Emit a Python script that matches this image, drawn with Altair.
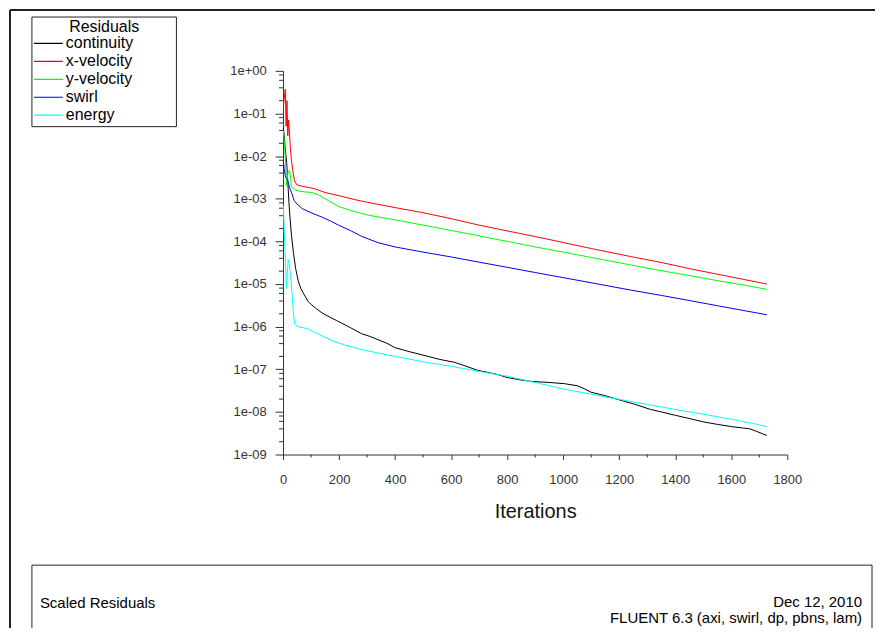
import json
import altair as alt
import pandas as pd

# ---------------- data ----------------
series_names = ["continuity", "x-velocity", "y-velocity", "swirl", "energy"]
series_colors = ["#000000", "#ff0000", "#00ff00", "#0000ff", "#00ffff"]

continuity_iter = [1, 4, 7, 10, 13, 17, 21, 25, 30, 37, 45, 54, 63, 72, 80, 89, 103, 120, 139, 165,
                   190, 210, 240, 281, 310, 340, 370, 400, 450, 518, 560, 613, 650, 696, 740, 767, 800,
                   850, 886, 950, 1004, 1051, 1075, 1099, 1150, 1202, 1250, 1312, 1350, 1401, 1450,
                   1502, 1550, 1602, 1640, 1667, 1690, 1710, 1727]
continuity_val = [4.7e-2, 3.0e-2, 1.7e-2, 1.1e-2, 7.0e-3, 2.5e-3, 8.3e-4, 3.5e-4, 1.4e-4, 5.5e-5,
                  2.3e-5, 1.2e-5, 8.0e-6, 6.2e-6, 5.0e-6, 3.9e-6, 3.2e-6, 2.6e-6, 2.1e-6, 1.7e-6,
                  1.4e-6, 1.2e-6, 9.5e-7, 6.8e-7, 5.9e-7, 4.9e-7, 4.1e-7, 3.2e-7, 2.6e-7, 2.0e-7,
                  1.7e-7, 1.45e-7, 1.2e-7, 9.4e-8, 8.2e-8, 7.5e-8, 6.4e-8, 5.6e-8, 5.2e-8, 4.9e-8,
                  4.6e-8, 4.1e-8, 3.5e-8, 2.9e-8, 2.4e-8, 1.9e-8, 1.55e-8, 1.14e-8, 1.0e-8, 8.3e-9,
                  7.0e-9, 5.8e-9, 5.1e-9, 4.5e-9, 4.2e-9, 4.0e-9, 3.5e-9, 3.1e-9, 2.8e-9]

x_velocity_iter = [1, 4, 8, 11, 14, 17, 20, 23, 26, 30, 35, 41, 50, 70, 100, 115, 150, 200, 257, 320,
                   400, 500, 601, 700, 767, 802, 900, 1000, 1100, 1241, 1350, 1450, 1550, 1650, 1727]
x_velocity_val = [0.15, 0.22, 0.37, 0.05, 0.2, 0.03, 0.07, 0.035, 0.016, 0.008,
                  0.0045, 0.0026, 0.0021, 0.00195, 0.0018, 0.0017, 0.0014, 0.00118, 9.5e-4, 7.8e-4,
                  6.2e-4, 4.7e-4, 3.4e-4, 2.4e-4, 1.95e-4, 1.75e-4, 1.3e-4, 9.4e-5, 6.8e-5, 4.4e-5,
                  3.2e-5, 2.3e-5, 1.7e-5, 1.26e-5, 1.0e-5]

y_velocity_iter = [1, 5, 9, 13, 16, 19, 24, 27, 30, 39, 50, 75, 103, 130, 150, 175, 200, 250, 305, 400,
                   500, 601, 700, 767, 900, 1000, 1100, 1241, 1350, 1450, 1550, 1650, 1727]
y_velocity_val = [0.04, 0.02, 0.007, 0.002, 0.0035, 0.0045, 0.0045, 0.003, 0.002, 0.0017,
                  0.00155, 0.00145, 0.0014, 0.0012, 0.001, 8.0e-4, 6.5e-4, 5.1e-4, 4.1e-4, 3.2e-4,
                  2.4e-4, 1.8e-4, 1.35e-4, 1.1e-4, 7.4e-5, 5.6e-5, 4.2e-5, 2.8e-5, 2.05e-5, 1.58e-5,
                  1.2e-5, 9.3e-6, 7.5e-6]

swirl_iter = [1, 4, 8, 12, 16, 20, 25, 32, 40, 50, 68, 100, 139, 170, 198, 240, 282, 340, 400, 500,
              601, 700, 767, 802, 900, 1000, 1100, 1241, 1350, 1450, 1550, 1650, 1727]
swirl_val = [0.008, 0.005, 0.0035, 0.003, 0.0028, 0.0022, 0.0017, 0.0013, 9.0e-4, 7.5e-4,
             5.9e-4, 4.7e-4, 3.7e-4, 3.0e-4, 2.4e-4, 1.8e-4, 1.3e-4, 9.3e-5, 7.4e-5, 5.6e-5,
             4.3e-5, 3.25e-5, 2.7e-5, 2.45e-5, 1.86e-5, 1.41e-5, 1.07e-5, 7.2e-6, 5.4e-6, 4.1e-6,
             3.1e-6, 2.35e-6, 1.9e-6]

energy_iter = [1, 4, 7, 10, 12, 15, 18, 20, 22, 27, 32, 37, 41, 51, 70, 86, 110, 146, 174, 220,
               281, 340, 400, 500, 601, 700, 767, 802, 900, 1004, 1100, 1202, 1300, 1401, 1500,
               1602, 1680, 1727]
energy_val = [6.9e-4, 2.0e-4, 6.6e-5, 1.8e-5, 7.8e-6, 1.5e-5, 3.8e-5, 3.5e-5, 2.7e-5, 1.6e-5,
              6.0e-6, 2.2e-6, 1.2e-6, 1.0e-6, 9.5e-7, 9.0e-7, 7.5e-7, 5.8e-7, 4.7e-7, 3.7e-7,
              2.9e-7, 2.4e-7, 2.0e-7, 1.5e-7, 1.17e-7, 8.9e-8, 7.5e-8, 6.8e-8, 4.9e-8, 3.4e-8,
              2.6e-8, 1.95e-8, 1.5e-8, 1.14e-8, 8.8e-9, 6.7e-9, 5.3e-9, 4.5e-9]

x_tick_values = [0, 200, 400, 600, 800, 1000, 1200, 1400, 1600, 1800]
x_minor_values = [100, 300, 500, 700, 900, 1100, 1300, 1500, 1700]
y_tick_values = [1e-9, 1e-8, 1e-7, 1e-6, 1e-5, 1e-4, 1e-3, 1e-2, 1e-1, 1e0]
y_tick_labels = ["1e-09", "1e-08", "1e-07", "1e-06", "1e-05", "1e-04", "1e-03", "1e-02", "1e-01", "1e+00"]
y_minor_values = [m * 10.0 ** e for e in range(-9, 0) for m in (2, 4, 6, 8)]

footer_left = ["Scaled Residuals"]
footer_date = ["Dec 12, 2010"]
footer_solver = ["FLUENT 6.3 (axi, swirl, dp, pbns, lam)"]
legend_title = ["Residuals"]

# ---------------- tables ----------------
frames = []
for name, its, vals in [
    ("continuity", continuity_iter, continuity_val),
    ("x-velocity", x_velocity_iter, x_velocity_val),
    ("y-velocity", y_velocity_iter, y_velocity_val),
    ("swirl", swirl_iter, swirl_val),
    ("energy", energy_iter, energy_val),
]:
    f = pd.DataFrame({"iteration": its, "residual": vals})
    f["series"] = name
    frames.append(f)
df = pd.concat(frames, ignore_index=True)

# ---------------- layout ----------------
W, H = 506, 385
PAD = {"left": 276, "top": 62, "right": 88, "bottom": 174}
SVG_W = PAD["left"] + W + PAD["right"]
SVG_H = PAD["top"] + H + PAD["bottom"]
FONT = "Liberation Sans"
AX = "#333333"
LINE = "#222222"

x_scale = alt.Scale(domain=[0, 1800], nice=False, zero=False)
y_scale = alt.Scale(type="log", domain=[1e-9, 1.0], nice=False)

y_label_expr = f"{json.dumps(y_tick_labels)}[round(log(datum.value)/LN10) + 9]"

x_axis = alt.Axis(values=x_tick_values, format="d", tickSize=5, labelPadding=14, labelFlush=False,
                  labelFont=FONT, labelFontSize=13, labelColor=AX, domainColor=AX,
                  tickColor=AX, grid=False, title="Iterations", titleFont=FONT,
                  titleFontSize=20, titleFontWeight="normal", titleColor="#111111",
                  titlePadding=15, labelOverlap=False)
y_axis = alt.Axis(values=y_tick_values, tickSize=8, labelPadding=9, labelFlush=False,
                  labelExpr=y_label_expr, labelFont=FONT, labelFontSize=13,
                  labelColor=AX, domainColor=AX, tickColor=AX, grid=False, title=None,
                  labelOverlap=False)

one = pd.DataFrame({"k": [0]})

# legend frame and its heading
legend_box = alt.Chart(one).mark_rect(fill="white", stroke=LINE, strokeWidth=1).encode(
    x=alt.value(-252), x2=alt.value(-107), y=alt.value(-54), y2=alt.value(56))
legend_head = alt.Chart(pd.DataFrame({"t": legend_title})).mark_text(
    align="center", baseline="middle", font=FONT, fontSize=16, color="black").encode(
    text="t:N", x=alt.value(-179.5), y=alt.value(-44))

lines = alt.Chart(df).mark_line(strokeWidth=1).encode(
    x=alt.X("iteration:Q", scale=x_scale, axis=x_axis),
    y=alt.Y("residual:Q", scale=y_scale, axis=y_axis),
    color=alt.Color("series:N", sort=series_names,
                    scale=alt.Scale(domain=series_names, range=series_colors),
                    legend=alt.Legend(title=None, orient="none",
                                      legendX=-251, legendY=-36.5, symbolType="stroke",
                                      symbolSize=841, symbolStrokeWidth=1.2, labelFont=FONT,
                                      labelFontSize=16, labelColor="black",
                                      clipHeight=18, rowPadding=0,
                                      padding=0, symbolOffset=0, labelOffset=2)),
)

y_minor = alt.Chart(pd.DataFrame({"residual": y_minor_values})).mark_rule(color=AX).encode(
    y=alt.Y("residual:Q", scale=y_scale, axis=y_axis),
    x=alt.value(-4), x2=alt.value(0),
)
x_minor = alt.Chart(pd.DataFrame({"iteration": x_minor_values})).mark_rule(color=AX).encode(
    x=alt.X("iteration:Q", scale=x_scale, axis=x_axis),
    y=alt.value(H), y2=alt.value(H + 3),
)

top_y = -PAD["top"] + 1
bottom_y = SVG_H - PAD["top"]
frame_top = alt.Chart(one).mark_rule(color=LINE, strokeWidth=2).encode(
    x=alt.value(-274), x2=alt.value(SVG_W - PAD["left"]), y=alt.value(top_y))
frame_left = alt.Chart(one).mark_rule(color=LINE, strokeWidth=2).encode(
    x=alt.value(-274), y=alt.value(top_y), y2=alt.value(bottom_y))
box_top = alt.Chart(one).mark_rule(color=LINE, strokeWidth=1).encode(
    x=alt.value(-252), x2=alt.value(591), y=alt.value(496))
box_left = alt.Chart(one).mark_rule(color=LINE, strokeWidth=1).encode(
    x=alt.value(-252), y=alt.value(496), y2=alt.value(bottom_y))
box_right = alt.Chart(one).mark_rule(color=LINE, strokeWidth=1).encode(
    x=alt.value(591), y=alt.value(496), y2=alt.value(bottom_y))

t_left = alt.Chart(pd.DataFrame({"t": footer_left})).mark_text(
    align="left", baseline="middle", font=FONT, fontSize=15, color="black").encode(
    text="t:N", x=alt.value(-244), y=alt.value(534))
t_date = alt.Chart(pd.DataFrame({"t": footer_date})).mark_text(
    align="right", baseline="middle", font=FONT, fontSize=15, color="black").encode(
    text="t:N", x=alt.value(581), y=alt.value(533))
t_solver = alt.Chart(pd.DataFrame({"t": footer_solver})).mark_text(
    align="right", baseline="middle", font=FONT, fontSize=15, color="black").encode(
    text="t:N", x=alt.value(581), y=alt.value(549))

chart = alt.layer(
    frame_top, frame_left, box_top, box_left, box_right, legend_box, legend_head,
    lines, y_minor, x_minor, t_left, t_date, t_solver,
).properties(
    width=W, height=H,
    autosize=alt.AutoSizeParams(type="none"),
    padding=PAD,
).configure(font=FONT, background="white").configure_view(stroke=None)

chart.save("out.html", embed_options={"renderer": "svg", "actions": False})
